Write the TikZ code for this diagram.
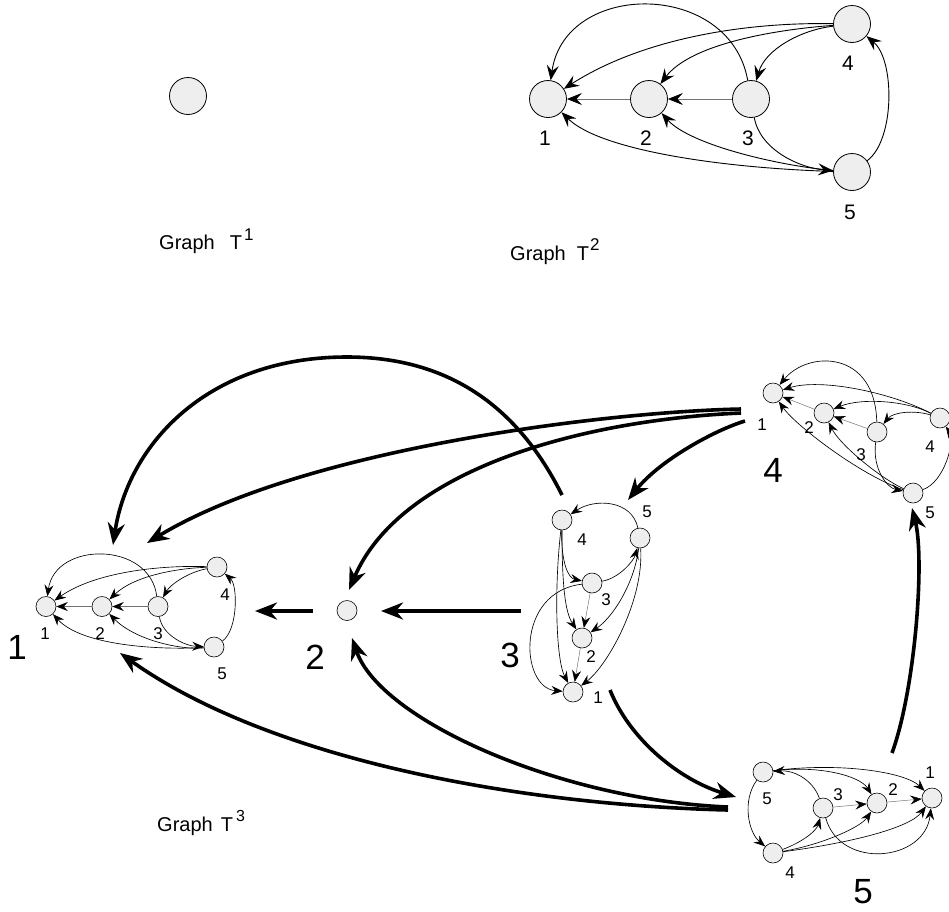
\documentclass[tikz,border=0pt]{standalone}
\usepackage{fontspec}
\setmainfont{Liberation Sans}
\usetikzlibrary{arrows.meta}
\definecolor{ngray}{HTML}{EEEEEE}
\begin{document}
\begin{tikzpicture}[x=1pt,y=-1pt,
  vbig/.style={circle,draw,fill=ngray,minimum size=37pt,inner sep=0pt,line width=0.8pt},
  vsm/.style={circle,draw,fill=ngray,minimum size=20pt,inner sep=0pt,line width=0.6pt},
  etwo/.style={line width=0.9pt,-{Stealth[length=15pt,width=12pt,inset=5.5pt]}},
  etwos/.style={draw=black!55,line width=0.7pt,-{Stealth[length=15pt,width=12pt,inset=5.5pt,color=black]}},
  ecl/.style={line width=0.65pt,-{Stealth[length=11.5pt,width=9pt,inset=4pt]}},
  ecls/.style={draw=black!55,line width=0.5pt,-{Stealth[length=11.5pt,width=9pt,inset=4pt,color=black]}},
  ebig/.style={line width=3.6pt,-{Stealth[length=22pt,width=17pt,inset=7pt]}},
  lbltwo/.style={inner sep=0pt,font=\fontsize{21}{25}\selectfont},
  lblsm/.style={inner sep=0pt,font=\fontsize{17}{20}\selectfont},
  lblbig/.style={inner sep=0pt,font=\fontsize{35}{40}\selectfont},
  gtitle/.style={inner sep=0pt,anchor=base west,font=\fontsize{20}{24}\selectfont}
]
\useasboundingbox (0,0) rectangle (949,911);

% ---------- Graph T1 ----------
\node[vbig] (t1) at (188,96) {};
\node[gtitle] (g1) at (159,249) {Graph\hspace{15pt}T\hspace{2pt}\raisebox{9pt}{\fontsize{17}{20}\selectfont 1}};

% ---------- Graph T2 ----------
\node[vbig] (a1) at (548,99) {};
\node[vbig] (a2) at (649,99) {};
\node[vbig] (a3) at (751,99) {};
\node[vbig] (a4) at (852,24) {};
\node[vbig] (a5) at (852,172) {};
\node[lbltwo] (la1) at (545,138) {1};
\node[lbltwo] (la2) at (646,138) {2};
\node[lbltwo] (la3) at (748,138) {3};
\node[lbltwo] (la4) at (848,63) {4};
\node[lbltwo] (la5) at (850,212) {5};
\draw[etwos] (a2) -- (a1);
\draw[etwos] (a3) -- (a2);
\draw[etwo] (a3) .. controls (730,-20) and (565,-20) .. (a1);
\draw[etwo] (a4) .. controls (740,22) and (640,40) .. (a1);
\draw[etwo] (a4) .. controls (770,30) and (690,45) .. (a2);
\draw[etwo] (a4) .. controls (800,30) and (765,50) .. (a3);
\draw[etwo] (a5) .. controls (895,140) and (895,60) .. (a4);
\draw[etwo] (a3) .. controls (760,150) and (800,168) .. (a5);
\draw[etwo] (a5) .. controls (720,168) and (600,150) .. (a1);
\draw[etwo] (a5) .. controls (780,166) and (690,145) .. (a2);
\node[gtitle] (g2) at (510,260) {Graph\hspace{11pt}T\hspace{1pt}\raisebox{10pt}{\fontsize{17}{20}\selectfont 2}};

% ---------- Graph T3 : copy 1 ----------
\node[vsm] (c1) at (46,606.5) {};
\node[vsm] (c2) at (102,606.5) {};
\node[vsm] (c3) at (158,606.5) {};
\node[vsm] (c4) at (217,567) {};
\node[vsm] (c5) at (214,647) {};
\node[lblsm] (lc1) at (45,634) {1};
\node[lblsm] (lc2) at (100,634) {2};
\node[lblsm] (lc3) at (158,634) {3};
\node[lblsm] (lc4) at (225,595) {4};
\node[lblsm] (lc5) at (222,674) {5};
\draw[ecls] (c2) -- (c1);
\draw[ecls] (c3) -- (c2);
\draw[ecl] (c3) .. controls (150,541) and (55,541) .. (c1);
\draw[ecl] (c4) .. controls (160,565) and (95,572) .. (c1);
\draw[ecl] (c4) .. controls (180,568) and (135,575) .. (c2);
\draw[ecl] (c4) .. controls (188,572) and (170,585) .. (c3);
\draw[ecl] (c5) .. controls (238,630) and (238,585) .. (c4);
\draw[ecl] (c3) .. controls (162,635) and (185,646) .. (c5);
\draw[ecl] (c5) .. controls (160,650) and (82,646) .. (c1);
\draw[ecl] (c5) .. controls (180,650) and (135,640) .. (c2);

% ---------- copy 2 (single vertex) ----------
\node[vsm] (b2) at (347,610.5) {};

% ---------- copy 3 ----------
\node[vsm] (d4) at (562,520) {};
\node[vsm] (d5) at (640,538) {};
\node[vsm] (d3) at (592,583) {};
\node[vsm] (d2) at (582,638) {};
\node[vsm] (d1) at (573,692) {};
\node[lblsm] (ld4) at (582,540) {4};
\node[lblsm] (ld5) at (647,512) {5};
\node[lblsm] (ld3) at (606,600) {3};
\node[lblsm] (ld2) at (591,657) {2};
\node[lblsm] (ld1) at (598,698) {1};
\draw[ecl] (d5) .. controls (632,500) and (595,498) .. (d4);
\draw[ecl] (d4) .. controls (561,562) and (568,578) .. (d3);
\draw[ecl] (d4) .. controls (562,585) and (565,612) .. (d2);
\draw[ecl] (d4) .. controls (554,590) and (556,660) .. (d1);
\draw[ecl] (d3) .. controls (620,578) and (634,560) .. (d5);
\draw[ecls] (d3) -- (d2);
\draw[ecls] (d2) -- (d1);
\draw[ecl] (d3) .. controls (515,592) and (520,688) .. (d1);
\draw[ecl] (d5) .. controls (634,585) and (612,618) .. (d2);
\draw[ecl] (d5) .. controls (644,600) and (608,665) .. (d1);

% ---------- copy 4 ----------
\node[vsm] (e1) at (773,393) {};
\node[vsm] (e2) at (824,413) {};
\node[vsm] (e3) at (877,432) {};
\node[vsm] (e4) at (940,418) {};
\node[vsm] (e5) at (913,493) {};
\node[lblsm] (le1) at (762,425) {1};
\node[lblsm] (le2) at (809,428) {2};
\node[lblsm] (le3) at (861,455) {3};
\node[lblsm] (le4) at (930,447) {4};
\node[lblsm] (le5) at (930,513) {5};
\draw[ecls] (e2) -- (e1);
\draw[ecls] (e3) -- (e2);
\draw[ecl] (e3) .. controls (875,350) and (808,350) .. (e1);
\draw[ecl] (e4) .. controls (890,392) and (820,378) .. (e1);
\draw[ecl] (e4) .. controls (905,400) and (860,398) .. (e2);
\draw[ecl] (e4) .. controls (915,410) and (893,412) .. (e3);
\draw[ecl] (e5) .. controls (945,482) and (955,440) .. (e4);
\draw[ecl] (e3) .. controls (872,470) and (888,488) .. (e5);
\draw[ecl] (e5) .. controls (860,475) and (795,425) .. (e1);
\draw[ecl] (e5) .. controls (880,478) and (840,445) .. (e2);

% ---------- copy 5 ----------
\node[vsm] (f5) at (763,772) {};
\node[vsm] (f4) at (773,853) {};
\node[vsm] (f3) at (823,808) {};
\node[vsm] (f2) at (877,803) {};
\node[vsm] (f1) at (932,798) {};
\node[lblsm] (lf5) at (767,799) {5};
\node[lblsm] (lf4) at (790,873) {4};
\node[lblsm] (lf3) at (838,795) {3};
\node[lblsm] (lf2) at (893,790) {2};
\node[lblsm] (lf1) at (930,773) {1};
\draw[ecl] (f5) .. controls (742,800) and (748,832) .. (f4);
\draw[ecl] (f3) .. controls (812,778) and (792,770) .. (f5);
\draw[ecl] (f5) .. controls (820,765) and (860,776) .. (f2);
\draw[ecl] (f5) .. controls (840,762) and (905,772) .. (f1);
\draw[ecls] (f3) -- (f2);
\draw[ecls] (f2) -- (f1);
\draw[ecl] (f4) .. controls (800,843) and (816,832) .. (f3);
\draw[ecl] (f4) .. controls (820,845) and (860,828) .. (f2);
\draw[ecl] (f4) .. controls (850,843) and (910,828) .. (f1);
\draw[ecl] (f3) .. controls (840,870) and (925,862) .. (f1);

% ---------- big vertex labels ----------
\node[lblbig] (L1) at (17,647) {1};
\node[lblbig] (L2) at (315,657) {2};
\node[lblbig] (L3) at (510,655) {3};
\node[lblbig] (L4) at (773,470) {4};
\node[lblbig] (L5) at (863,892) {5};

% ---------- big connectors ----------
\coordinate (b21s) at (313,611); \coordinate (b21e) at (255,611);
\coordinate (b32s) at (521,611); \coordinate (b32e) at (381,611);
\coordinate (b31s) at (562,495); \coordinate (b31m) at (347,357); \coordinate (b31e) at (113,545);
\coordinate (b41s) at (741,409); \coordinate (b41e) at (147,543);
\coordinate (b42s) at (741,413); \coordinate (b42e) at (349,590);
\coordinate (b43s) at (745,421); \coordinate (b43e) at (628,500);
\coordinate (b51s) at (728,810); \coordinate (b51e) at (120,653);
\coordinate (b52s) at (728,807); \coordinate (b52e) at (352,638);
\coordinate (b35s) at (610,690); \coordinate (b35e) at (736,797);
\coordinate (b54s) at (892,753); \coordinate (b54e) at (912,508);

\draw[ebig] (b21s) -- (b21e);
\draw[ebig] (b32s) -- (b32e);
\draw[ebig] (b31s) .. controls (522,415) and (457,357) .. (b31m) .. controls (207,357) and (128,445) .. (b31e);
\draw[ebig] (b41s) .. controls (600,412) and (300,450) .. (b41e);
\draw[ebig] (b42s) .. controls (580,420) and (400,470) .. (b42e);
\draw[ebig] (b43s) .. controls (715,430) and (660,460) .. (b43e);
\draw[ebig] (b51s) .. controls (520,805) and (270,760) .. (b51e);
\draw[ebig] (b52s) .. controls (560,800) and (380,720) .. (b52e);
\draw[ebig] (b35s) .. controls (630,740) and (680,780) .. (b35e);
\draw[ebig] (b54s) .. controls (915,690) and (925,560) .. (b54e);

\node[gtitle] (g3) at (157,831) {Graph\hspace{8pt}T\hspace{3pt}\raisebox{10pt}{\fontsize{16}{19}\selectfont 3}};
\end{tikzpicture}
\end{document}
